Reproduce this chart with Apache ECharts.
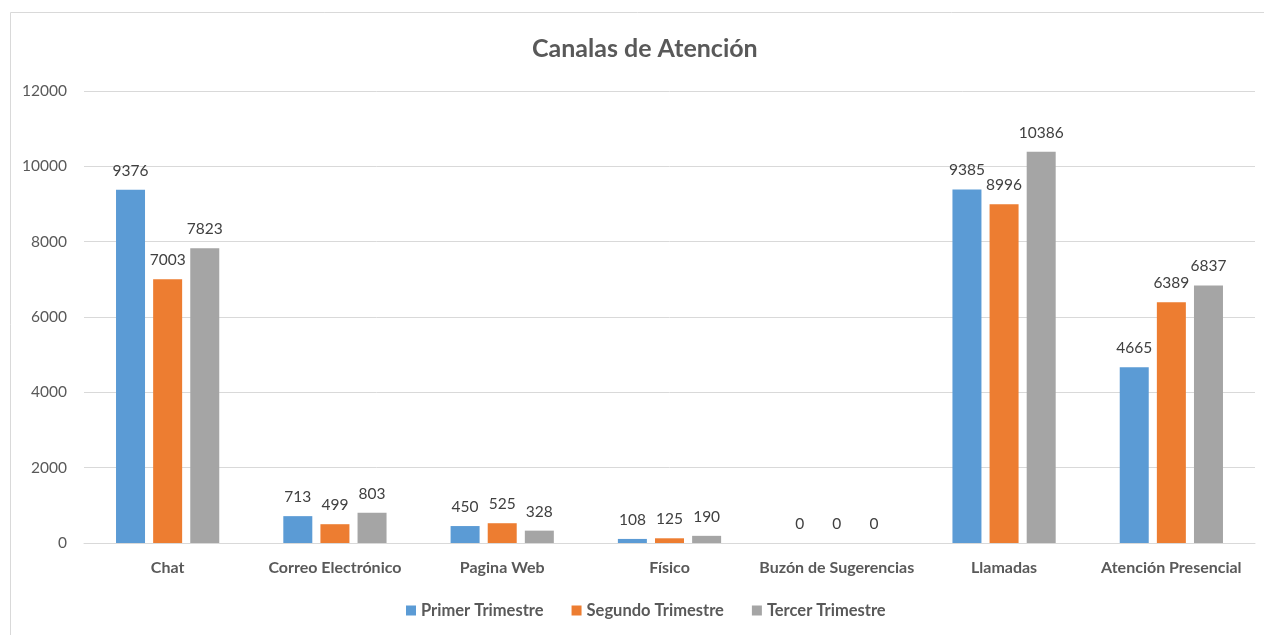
<!DOCTYPE html>
<html><head><meta charset="utf-8">
<script src="https://cdn.jsdelivr.net/npm/echarts@6/dist/echarts.min.js"></script>
<style>html,body{margin:0;padding:0;background:#fff}#c{width:1264px;height:635px}</style>
</head><body><div id="c"></div>
<script>
var categories = ['Chat','Correo Electrónico','Pagina Web','Físico','Buzón de Sugerencias','Llamadas','Atención Presencial'];
var seriesNames = ['Primer Trimestre','Segundo Trimestre','Tercer Trimestre'];
var primer = [9376, 713, 450, 108, 0, 9385, 4665];
var segundo = [7003, 499, 525, 125, 0, 8996, 6389];
var tercer = [7823, 803, 328, 190, 0, 10386, 6837];
var colors = ['#5B9BD5','#ED7D31','#A5A5A5'];
var FONT = 'Lato, "Open Sans", sans-serif';
var chart = echarts.init(document.getElementById('c'));
function mk(name, data, color){
  return {name:name,type:'bar',data:data,barWidth:29,barGap:'28%',
    itemStyle:{color:color},
    label:{show:true,position:'top',distance:11,color:'#404040',fontSize:15.5,fontFamily:FONT}};
}
chart.setOption({
  animation:false,
  color:colors,
  graphic:[{type:'rect',shape:{x:10.5,y:12.5,width:1400,height:800},style:{fill:'none',stroke:'#d9d9d9',lineWidth:1},silent:true}],
  title:{text:'Canalas de Atención',left:527,top:31,textStyle:{fontFamily:FONT,fontSize:25,fontWeight:'bold',color:'#595959'}},
  legend:{bottom:11,left:401,itemWidth:10,itemHeight:10,itemGap:28,icon:'rect',
    textStyle:{fontFamily:FONT,fontSize:16.5,fontWeight:'bold',color:'#595959'},data:seriesNames},
  grid:{left:84,right:9,top:91,bottom:92,containLabel:false},
  xAxis:{type:'category',data:categories,axisLine:{lineStyle:{color:'#d9d9d9',width:1}},axisTick:{show:false},
    axisLabel:{margin:17,fontFamily:FONT,fontSize:16,fontWeight:'bold',color:'#595959',interval:0}},
  yAxis:{type:'value',min:0,max:12000,interval:2000,axisLine:{show:false},axisTick:{show:false},
    axisLabel:{margin:17,fontFamily:FONT,fontSize:15.5,color:'#595959',formatter:function(v){return String(v);}},
    splitLine:{lineStyle:{color:'#d9d9d9',width:1}}},
  series:[mk(seriesNames[0],primer,colors[0]),mk(seriesNames[1],segundo,colors[1]),mk(seriesNames[2],tercer,colors[2])]
});
</script></body></html>
